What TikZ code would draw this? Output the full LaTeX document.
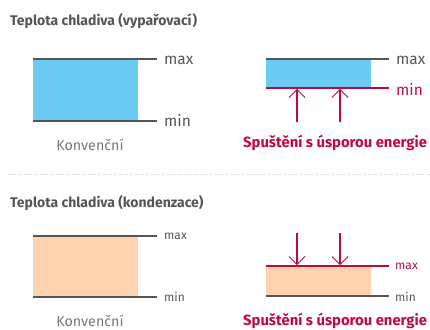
\documentclass[tikz,border=0pt]{standalone}
\usepackage{fontspec}
\setmainfont{Fira Sans}
\usetikzlibrary{arrows.meta}
\definecolor{lggray}{HTML}{555555}
\definecolor{lglight}{HTML}{777777}
\definecolor{lgred}{HTML}{C00A3F}
\definecolor{lgblue}{HTML}{6CCBF2}
\definecolor{lgpeach}{HTML}{FCD3AE}
\definecolor{sepgray}{HTML}{DDDDDD}
\tikzset{
  title/.style={anchor=west, inner sep=0pt, font=\fontsize{14}{15}\selectfont\bfseries, text=lggray},
  lim/.style={line width=1.6pt, draw=lggray},
  limred/.style={line width=1.6pt, draw=lgred},
  lbl/.style={anchor=west, inner sep=0pt, font=\fontsize{15.5}{16}\selectfont, text=lggray},
  lblsm/.style={anchor=west, inner sep=0pt, font=\fontsize{12}{13}\selectfont, text=lggray},
  cap1/.style={inner sep=0pt, font=\fontsize{14.3}{15}\selectfont, text=lglight},
  cap2/.style={anchor=west, inner sep=0pt, font=\fontsize{14.8}{16}\selectfont\bfseries, text=lgred},
  push/.style={line width=1.6pt, draw=lgred, -{Straight Barb[length=8pt, width=16pt, line width=1pt]}},
}
\begin{document}
\begin{tikzpicture}[x=1pt,y=-1pt]
\useasboundingbox (0,0) rectangle (430,329);
% ---------- top section
\node[title] (t1) at (10,21) {Teplota chladiva (vypařovací)};
% left
\fill[lgblue] (33,59) rectangle (138,121);
\coordinate (a1) at (33,59); \coordinate (a2) at (157,59);
\coordinate (b1) at (33,121); \coordinate (b2) at (157,121);
\draw[lim] (a1) -- (a2);
\draw[lim] (b1) -- (b2);
\node[lbl] (mx1) at (164,60) {max};
\node[lbl] (mn1) at (164,120) {min};
\node[cap1] (k1) at (90,145) {Konvenční};
% right
\fill[lgblue] (266,59) rectangle (371,88);
\coordinate (c1) at (266,59); \coordinate (c2) at (389,59);
\coordinate (d1) at (266,88); \coordinate (d2) at (389,88);
\draw[lim] (c1) -- (c2);
\draw[limred] (d1) -- (d2);
\node[lbl] (mx2) at (396,60) {max};
\node[lbl, text=lgred] (mn2) at (396,89) {min};
\coordinate (u1s) at (297,122); \coordinate (u1e) at (297,88.8);
\coordinate (u2s) at (340,122); \coordinate (u2e) at (340,88.8);
\draw[push] (u1s) -- (u1e);
\draw[push] (u2s) -- (u2e);
\node[cap2] (s1) at (243,143) {Spuštění s úsporou energie};
% ---------- separator
\coordinate (sepL) at (8,174); \coordinate (sepR) at (430,174);
\draw[sepgray, line width=1pt, dash pattern=on 3pt off 2.3pt] (sepL) -- (sepR);
% ---------- bottom section
\node[title] (t2) at (10,203) {Teplota chladiva (kondenzace)};
% left
\fill[lgpeach] (33,236) rectangle (138,297);
\coordinate (e1) at (33,236); \coordinate (e2) at (157,236);
\coordinate (f1) at (33,297); \coordinate (f2) at (157,297);
\draw[lim] (e1) -- (e2);
\draw[lim] (f1) -- (f2);
\node[lblsm] (mx3) at (164,236) {max};
\node[lblsm] (mn3) at (164,297) {min};
\node[cap1] (k2) at (90,321) {Konvenční};
% right
\fill[lgpeach] (266,266) rectangle (371,296);
\coordinate (g1) at (266,266); \coordinate (g2) at (389,266);
\coordinate (h1) at (266,296); \coordinate (h2) at (389,296);
\draw[limred] (g1) -- (g2);
\draw[lim] (h1) -- (h2);
\node[lblsm, text=lgred] (mx4) at (395,266) {max};
\node[lblsm] (mn4) at (395,297) {min};
\coordinate (v1s) at (297,233); \coordinate (v1e) at (297,265.2);
\coordinate (v2s) at (340,233); \coordinate (v2e) at (340,265.2);
\draw[push] (v1s) -- (v1e);
\draw[push] (v2s) -- (v2e);
\node[cap2] (s2) at (243,321) {Spuštění s úsporou energie};
\end{tikzpicture}
\end{document}
